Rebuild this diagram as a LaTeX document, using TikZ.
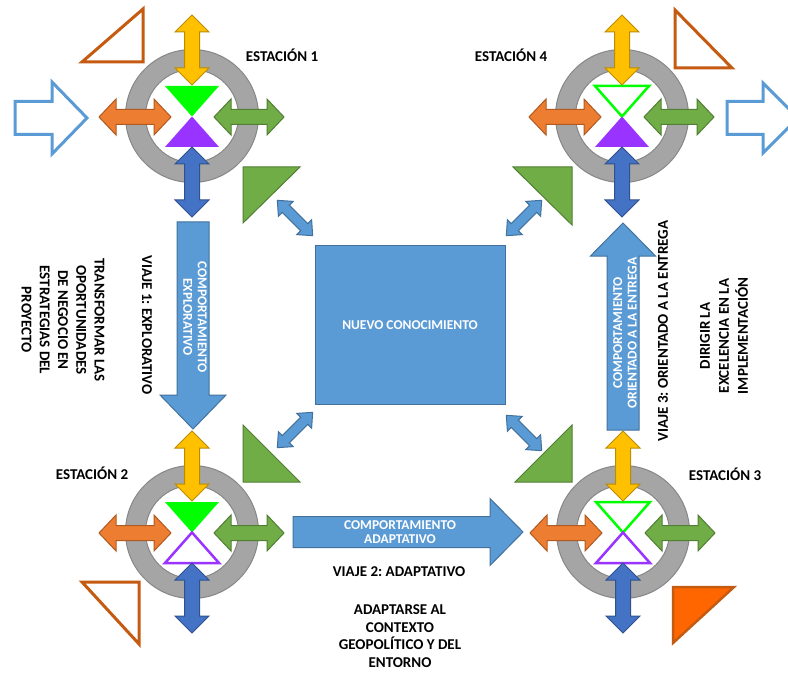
\documentclass[tikz,border=0pt]{standalone}
\usepackage{fontspec}
\setmainfont{Carlito}
\frenchspacing
\definecolor{accblue}{HTML}{5B9BD5}
\definecolor{accblueD}{HTML}{41719C}
\definecolor{dkblue}{HTML}{4472C4}
\definecolor{dkblueD}{HTML}{2F528F}
\definecolor{orng}{HTML}{ED7D31}
\definecolor{orngD}{HTML}{AE5A21}
\definecolor{yel}{HTML}{FFC000}
\definecolor{yelD}{HTML}{BC8C00}
\definecolor{grn}{HTML}{70AD47}
\definecolor{grnD}{HTML}{507E32}
\definecolor{ringgray}{HTML}{A5A5A5}
\definecolor{ringgrayD}{HTML}{878787}
\definecolor{lime}{HTML}{00FF00}
\definecolor{purp}{HTML}{9933FF}
\definecolor{rust}{HTML}{C55A11}
\definecolor{hot}{HTML}{FF6600}

% double-headed block arrow: style, centre, angle, length, shaft width, head width, head length
\newcommand\twoway[7]{%
  \begin{scope}[shift={(#2)},rotate=#3]
    \path[#1] (-#4/2,0) -- (-#4/2+#7,#6/2) -- (-#4/2+#7,#5/2) -- (#4/2-#7,#5/2)
      -- (#4/2-#7,#6/2) -- (#4/2,0) -- (#4/2-#7,-#6/2) -- (#4/2-#7,-#5/2)
      -- (-#4/2+#7,-#5/2) -- (-#4/2+#7,-#6/2) -- cycle;
  \end{scope}}
% single block arrow: style, tail, angle, length, shaft width, head width, head length
\newcommand\oneway[7]{%
  \begin{scope}[shift={(#2)},rotate=#3]
    \path[#1] (0,#5/2) -- (#4-#7,#5/2) -- (#4-#7,#6/2) -- (#4,0)
      -- (#4-#7,-#6/2) -- (#4-#7,-#5/2) -- (0,-#5/2) -- cycle;
  \end{scope}}
% station: centre, style of upper triangle, style of lower triangle
\newcommand\station[3]{%
  \begin{scope}[shift={(#1)}]
    \path[fill=ringgray,draw=ringgrayD,line width=1pt,even odd rule]
      (0,0) circle (66.5pt) (0,0) circle (46.5pt);
    \path[#2] (-27,-30) -- (27,-30) -- (0,0.5) -- cycle;
    \path[#3] (-27,31) -- (27,31) -- (0,0.5) -- cycle;
    \twoway{yelarr}{0,-66}{90}{70}{15}{34}{17}
    \twoway{orarr}{-57,1}{0}{72}{15}{36}{17}
    \twoway{grarr}{57,1}{0}{70}{15}{36}{17}
    \twoway{dbarr}{0,66}{90}{70}{15}{34}{17}
  \end{scope}}

\begin{document}
\begin{tikzpicture}[x=1pt,y=-1pt,
  blk/.style={line width=1pt,line join=miter},
  yelarr/.style={blk,fill=yel,draw=yelD},
  orarr/.style={blk,fill=orng,draw=orngD},
  grarr/.style={blk,fill=grn,draw=grnD},
  dbarr/.style={blk,fill=dkblue,draw=dkblueD},
  bluearr/.style={blk,fill=accblue,draw=accblueD},
  hollow/.style={draw=accblue,line width=3pt,fill=white,line join=miter},
  grtri/.style={blk,fill=grn,draw=grnD},
  limefull/.style={fill=lime},
  limeline/.style={draw=lime,line width=2.5pt,fill=white,line join=miter},
  purpfull/.style={fill=purp},
  purpline/.style={draw=purp,line width=2.5pt,fill=white,line join=miter},
  rusttri/.style={draw=rust,line width=3pt,fill=white,line join=miter},
  lbl/.style={inner sep=0pt,align=center,text=black,font=\bfseries\fontsize{15}{18.3}\selectfont},
  wlbl/.style={inner sep=0pt,align=center,text=white,font=\bfseries\fontsize{13.5}{14.5}\selectfont}]
\useasboundingbox (0,0) rectangle (788,674);
\begin{scope}
\clip (0,0) rectangle (788,674);

% central block
\path[blk,fill=accblue,draw=accblueD] (315,246) rectangle (505,404);
\node[wlbl] (nuevo) at (410,325) {NUEVO CONOCIMIENTO};

% green corner triangles
\path[grtri] (243,167) -- (300,167) -- (243,223) -- cycle;
\path[grtri] (513,167) -- (572,167) -- (572,225) -- cycle;
\path[grtri] (243,425) -- (243,482) -- (300,482) -- cycle;
\path[grtri] (572,425) -- (572,482) -- (515,482) -- cycle;

% small diagonal links to the central block
\twoway{bluearr}{295,218}{-45}{50}{10}{21}{12}
\twoway{bluearr}{524,218}{45}{50}{10}{21}{12}
\twoway{bluearr}{295,430}{45}{50}{10}{21}{12}
\twoway{bluearr}{524,433}{-45}{50}{10}{21}{12}

% outlined corner triangles
\path[rusttri] (82,62) -- (143,62) -- (143,9) -- cycle;
\path[rusttri] (675,10) -- (675,68) -- (732,68) -- cycle;
\path[rusttri] (82,582) -- (139,582) -- (139,644) -- cycle;
\path[draw=rust,line width=2.5pt,fill=hot,line join=miter] (673,587) -- (734,587) -- (673,643) -- cycle;

% entry and exit arrows
\oneway{hollow}{15,118}{0}{72}{33}{72}{35}
\oneway{hollow}{727,118}{0}{71}{33}{70}{35}

% journeys
\oneway{bluearr}{193,222}{-90}{207}{32}{66}{34}
\oneway{bluearr}{293,532}{0}{230}{31}{67}{33}
\oneway{bluearr}{623,430}{90}{207}{32}{65}{33}

% stations
\station{192,116}{limefull}{purpfull}
\station{622,116}{limeline}{purpfull}
\station{192,532}{limefull}{purpline}
\station{623,532}{limeline}{purpline}
\end{scope}

% labels
\node[lbl] (est1) at (282,55) {ESTACIÓN 1};
\node[lbl] (est4) at (511,55) {ESTACIÓN 4};
\node[lbl] (est2) at (92,473) {ESTACIÓN 2};
\node[lbl] (est3) at (725,474) {ESTACIÓN 3};

\node[wlbl,rotate=-90] (comp1) at (195,317) {COMPORTAMIENTO\\EXPLORATIVO};
\node[lbl,rotate=-90] (viaje1) at (147,325) {VIAJE 1: EXPLORATIVO};
\node[lbl,rotate=-90] (meta1) at (63,320) {TRANSFORMAR LAS\\OPORTUNIDADES\\DE NEGOCIO EN\\ESTRATEGIAS DEL\\PROYECTO};

\node[wlbl] (comp2) at (400,532) {COMPORTAMIENTO\\ADAPTATIVO};
\node[lbl] (viaje2) at (399,572) {VIAJE 2: ADAPTATIVO};
\node[lbl,font=\bfseries\fontsize{15}{17.5}\selectfont] (meta2) at (400,636) {ADAPTARSE AL\\CONTEXTO\\GEOPOLÍTICO Y DEL\\ENTORNO};

\node[wlbl,rotate=90] (comp3) at (625,333) {COMPORTAMIENTO\\ORIENTADO A LA ENTREGA};
\node[lbl,rotate=90] (viaje3) at (663,331) {VIAJE 3: ORIENTADO A LA ENTREGA};
\node[lbl,rotate=90,font=\bfseries\fontsize{15}{19}\selectfont] (meta3) at (724,336) {DIRIGIR LA\\EXCELENCIA EN LA\\IMPLEMENTACIÓN};
\end{tikzpicture}
\end{document}
